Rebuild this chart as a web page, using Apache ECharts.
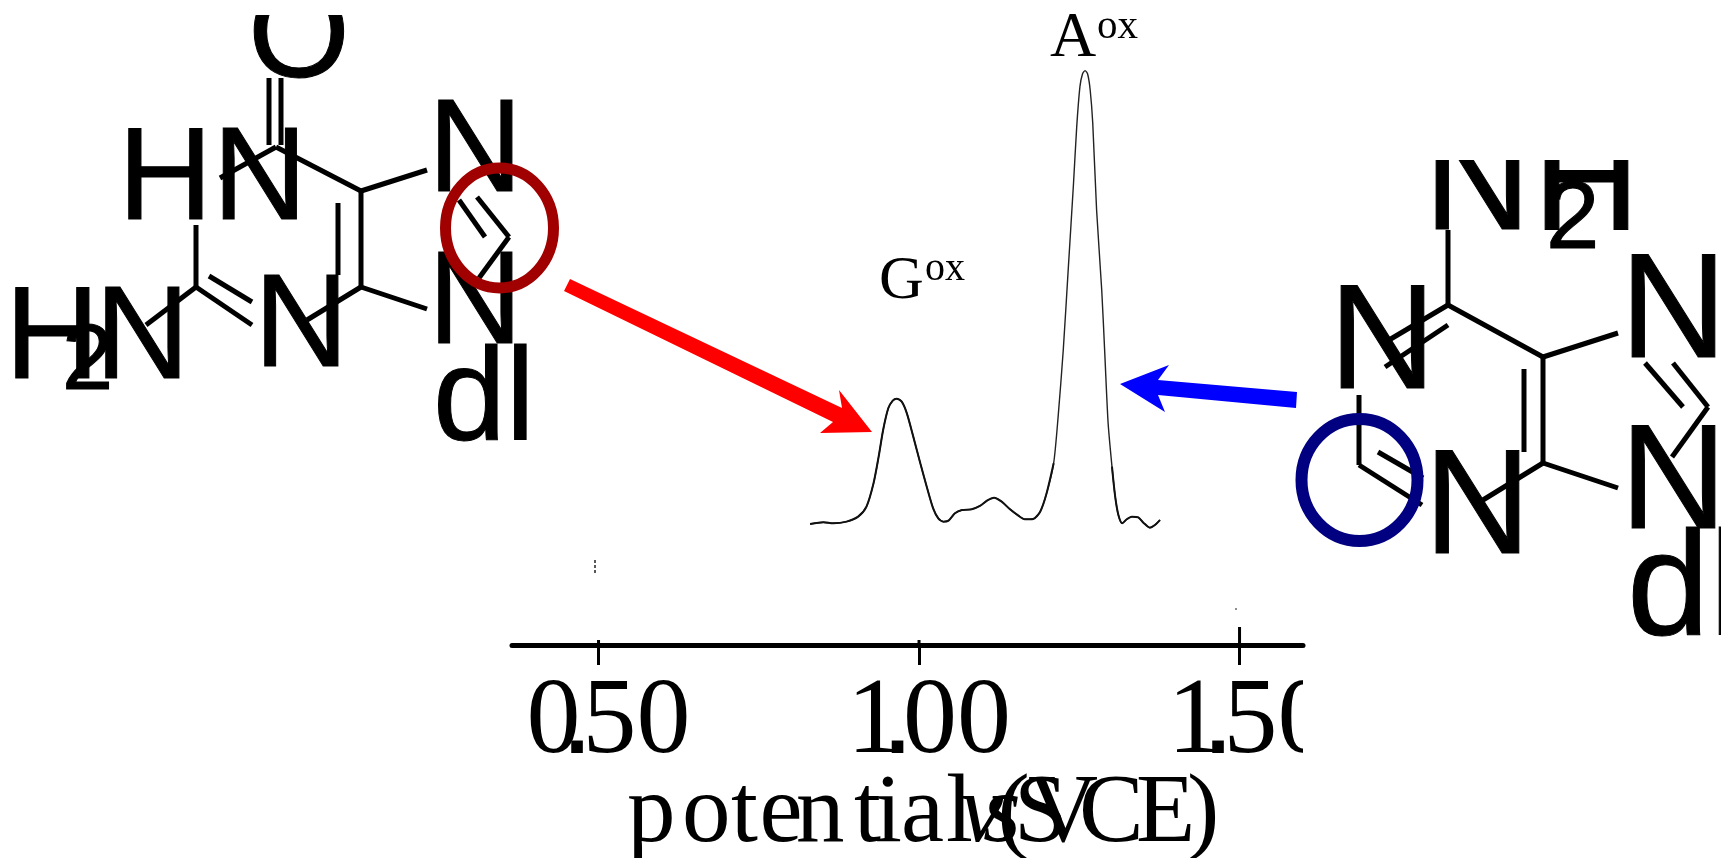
<!DOCTYPE html>
<html>
<head>
<meta charset="utf-8">
<style>html,body{margin:0;padding:0;background:#fff}#c{width:1721px;height:858px}</style>
<script src="https://cdn.jsdelivr.net/npm/echarts@6/dist/echarts.min.js"></script>
</head>
<body>
<div id="c"></div>
<script>
// Differential-pulse trace: potential (V) and current (arbitrary units)
const potential = [.830,.851,.866,.887,.905,.918,.929,.937,.944,.952,.959,.965,.973,.981,.991,1.002,1.012,1.022,1.030,1.038,1.046,1.056,1.067,1.082,1.095,1.106,1.117,1.129,1.142,1.155,1.165,1.178,1.189,1.199,1.210,1.217,1.225,1.233,1.241,1.246,1.251,1.255,1.259,1.263,1.267,1.271,1.277,1.285,1.290,1.295,1.301,1.306,1.311,1.317,1.324,1.332,1.342,1.350,1.360,1.368,1.376];
const current = [20.17,20.45,20.28,20.56,21.39,23.06,26.95,31.39,35.84,39.45,40.73,41.06,40.56,38.61,34.73,30.28,26.39,22.78,21.12,20.56,20.73,21.95,22.50,22.61,23.17,24.06,24.56,23.89,22.61,21.56,20.95,21.00,22.22,25.28,30.28,38.06,49.17,63.06,76.95,86.39,93.06,95.17,95.73,95.17,92.50,86.95,72.50,59.17,48.06,36.95,29.73,24.73,21.67,20.28,20.95,21.39,21.28,20.39,19.56,20.00,20.84];
const tickValues = [0.5, 1.0, 1.5];
const tickRise = [0.83, 0.83, 3];
const axisNameParts = ['p','o','t','e','n','t','i','a','l','v','s','(','S','V','C','E',')'];
const italicParts = ['v','s'];

// Annotation drawings (structures, arrows, peak labels)
const leftBonds = [[269,78,269,145],[281,78,281,145],[276,147,220,178],[276,147,361,191],[361,191,427,170],[361,191,361,287],[338,203,338,275],[361,287,307,320],[361,287,427,309],[196,225,196,287],[196,287,146,325],[196,287,252,325],[209,276,252,302],[459,200,485,237],[477,197,509,237],[509,237,479,278]];
const rightBonds = [[1448,230,1448,305],[1448,305,1543,357],[1448,305,1389,340],[1448,325,1385,367],[1543,357,1618,333],[1543,357,1543,463],[1524,369,1524,452],[1543,463,1483,500],[1543,463,1618,488],[1359,395,1359,465],[1359,465,1422,505],[1378,452,1423,478],[1645,363,1683,407],[1673,363,1708,407],[1708,407,1672,457]];
const sansLabels = [
  ['O',248,77,131],['HN',118,219,131],['N',428,191,131],['N',428,343,131],['dl',433,440,131],
  ['H',5,378,131],['2',62,389,92],['N',95,378,131],['N',254,366,131],
  ['N',1424,229,148],['H',1533,229,148],['2',1546,248,96],['N',1329,388,148],['N',1620,357,148],
  ['N',1620,528,148],['N',1424,553,148],['dl',1627,635,148]
];
const serifLabels = [['G',879,298,62],['ox',925,280,40],['A',1050,56,64],['ox',1097,38,41]];
const redArrow = [[570,279],[842,408],[839,390],[872,432],[820,433],[833,422],[564,291]];
const blueArrow = [[1120,384],[1169,365],[1158,380],[1297,392],[1296,408],[1158,395],[1165,412]];

const SERIF = '"Liberation Serif"', SANS = '"Liberation Sans"';
function txt(t, x, base, fs, family, k) {
  return {type:'text', z:20, silent:true,
    style:{text:t, x:x, y:base - k*fs, fill:'#000', stroke:'#000', lineWidth:fs>90?1:0, font:fs+'px '+family, align:'left', verticalAlign:'middle'}};
}
const bond = b => ({type:'line', z:30, silent:true, shape:{x1:b[0],y1:b[1],x2:b[2],y2:b[3]}, style:{stroke:'#000',lineWidth:5}});
const graphic = [
  ...sansLabels.map(l => txt(l[0],l[1],l[2],l[3],SANS,.275)),
  ...serifLabels.map(l => txt(l[0],l[1],l[2],l[3],SERIF,.27)),
  ...leftBonds.map(bond), ...rightBonds.map(bond),
  {type:'ellipse', z:40, silent:true, shape:{cx:499.5,cy:228,rx:54,ry:60}, style:{fill:'none',stroke:'#a00000',lineWidth:11}},
  {type:'ellipse', z:40, silent:true, shape:{cx:1359.5,cy:480,rx:58,ry:61}, style:{fill:'none',stroke:'#000080',lineWidth:12}},
  {type:'polygon', z:40, silent:true, shape:{points:redArrow}, style:{fill:'#ff0000'}},
  {type:'polygon', z:40, silent:true, shape:{points:blueArrow}, style:{fill:'#0000ff'}},
  // cropped edges of the source picture
  {type:'rect', z:50, silent:true, shape:{x:230,y:0,width:130,height:15}, style:{fill:'#fff'}},
  {type:'rect', z:50, silent:true, shape:{x:1420,y:100,width:215,height:60}, style:{fill:'#fff'}},
  {type:'rect', z:50, silent:true, shape:{x:1303,y:670,width:40,height:100}, style:{fill:'#fff'}},
  // scanning specks
  {type:'line', z:30, silent:true, shape:{x1:595,y1:560,x2:595,y2:575}, style:{stroke:'#222',lineWidth:1.5,lineDash:[3,2]}},
  {type:'line', z:30, silent:true, shape:{x1:1236,y1:608,x2:1236,y2:610}, style:{stroke:'#444',lineWidth:1.2}}
];

const digitFont = {fontFamily:SERIF, fontSize:108, color:'#000', align:'center', verticalAlign:'bottom', lineHeight:130};
const nameFont = {fontFamily:SERIF, fontSize:97, color:'#000', align:'left', verticalAlign:'bottom', lineHeight:112};
const nameWidths = [55,49,28.5,36.5,58,21,26,45,14,23,14.5,16.5,14,51,57,51,32];
const nameRich = {s:{...nameFont, width:31}};
nameWidths.forEach((w,i) => { nameRich['t'+i] = {...nameFont, width:w, fontStyle: (i>8 && italicParts.includes(axisNameParts[i])) ? 'italic' : 'normal'}; });

const lowTrace = potential.map((x,i) => [x, (i<35 || i>49) ? current[i] : null]);
const chart = echarts.init(document.getElementById('c'));
chart.setOption({
  animation:false,
  backgroundColor:'#fff',
  graphic:{elements:graphic},
  grid:{left:512, width:791, top:45, height:600, outerBoundsMode:'none', containLabel:false},
  xAxis:{
    type:'value', min:0.365, max:1.599, position:'bottom',
    splitLine:{show:false},
    axisLine:{show:true, onZero:false, lineStyle:{color:'#000',width:5}},
    axisTick:{show:true, customValues:tickValues, length:20, lineStyle:{color:'#000',width:3}},
    axisLabel:{
      show:true, customValues:tickValues, margin:3, hideOverlap:false, showMinLabel:true, showMaxLabel:true,
      formatter:v => { const p = v.toFixed(2).split('.'); return `{s| }{u|${p[0]}}{d|.}{w|${p[1]}}`; },
      rich:{
        s:{...digitFont, width:29},
        u:{...digitFont, width:46},
        d:{fontFamily:'"DejaVu Sans"', fontWeight:'bold', fontSize:66, color:'#000', align:'center', verticalAlign:'bottom', lineHeight:130, width:1, padding:[0,0,9,0]},
        w:{...digitFont, width:118}
      }
    },
    name: '{s| }' + axisNameParts.map((p,i) => `{t${i}|${p}}`).join(''),
    nameLocation:'middle', nameGap:107, nameMoveOverlap:false,
    nameTextStyle:{rich:nameRich}
  },
  yAxis:{type:'value', min:0, max:100, show:false},
  series:[
    {type:'line', name:'trace', silent:true, symbol:'none', smooth:0.25,
     data:potential.map((x,i)=>[x,current[i]]),
     lineStyle:{color:'#222',width:1.4}},
    {type:'line', name:'trace (heavy baseline)', silent:true, symbol:'none', smooth:0.25, connectNulls:false,
     data:lowTrace, lineStyle:{color:'#111',width:2}},
    ...tickValues.map((x,i)=>({type:'line', name:'tick '+x, silent:true, symbol:'none',
      data:[[x,0],[x,tickRise[i]]], lineStyle:{color:'#000',width:3}}))
  ]
});
</script>
</body>
</html>
